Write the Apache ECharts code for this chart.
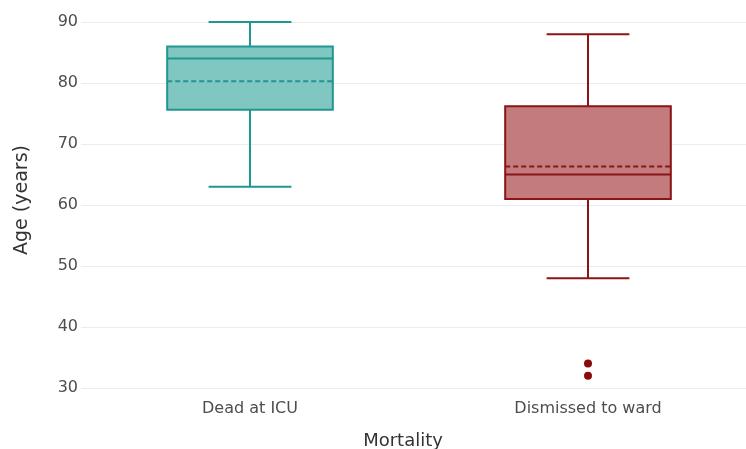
<!DOCTYPE html>
<html>
<head>
<meta charset="utf-8">
<script src="https://cdn.jsdelivr.net/npm/echarts@6/dist/echarts.min.js"></script>
<style>html,body{margin:0;padding:0;background:#fff;}#c{width:746px;height:449px;}</style>
</head>
<body>
<div id="c"></div>
<script>
const categories = ['Dead at ICU', 'Dismissed to ward'];
const whiskerLow = [63, 48];
const q1 = [75.6, 61];
const median = [84, 65];
const q3 = [86, 76.2];
const whiskerHigh = [90, 88];
const means = [80.3, 66.3];
const outlierCat = [1, 1];
const outlierVal = [34, 32];
const yTicks = [30, 40, 50, 60, 70, 80, 90];

const strokeColors = ['#1f9690', '#8b1414'];
const fillColors = ['#80c6c1', '#c47b7e'];
const FONT = 'DejaVu Sans';

const boxData = categories.map((c, i) => [i, whiskerLow[i], q1[i], median[i], q3[i], whiskerHigh[i], means[i]]);
const outData = outlierCat.map((c, i) => [c, outlierVal[i]]);

function renderBox(params, api) {
  const idx = api.value(0);
  const band = api.size([1, 0])[0];
  const bw = band * 0.49, cw = band * 0.245;
  const x = api.coord([idx, 0])[0];
  const y = v => api.coord([idx, v])[1];
  const stroke = strokeColors[idx], fill = fillColors[idx];
  const ls = { stroke: stroke, lineWidth: 2, fill: null };
  const yLo = y(api.value(1)), yQ1 = y(api.value(2)), yMed = y(api.value(3)),
        yQ3 = y(api.value(4)), yHi = y(api.value(5)), yMean = y(api.value(6));
  return {
    type: 'group',
    children: [
      { type: 'line', shape: { x1: x, y1: yHi, x2: x, y2: yQ3 }, style: ls },
      { type: 'line', shape: { x1: x, y1: yQ1, x2: x, y2: yLo }, style: ls },
      { type: 'line', shape: { x1: x - cw / 2, y1: yHi, x2: x + cw / 2, y2: yHi }, style: ls },
      { type: 'line', shape: { x1: x - cw / 2, y1: yLo, x2: x + cw / 2, y2: yLo }, style: ls },
      { type: 'rect', shape: { x: x - bw / 2, y: yQ3, width: bw, height: yQ1 - yQ3 }, style: { fill: fill, stroke: stroke, lineWidth: 2 } },
      { type: 'line', shape: { x1: x - bw / 2, y1: yMed, x2: x + bw / 2, y2: yMed }, style: ls },
      { type: 'line', shape: { x1: x - bw / 2, y1: yMean, x2: x + bw / 2, y2: yMean }, style: { stroke: stroke, lineWidth: 2, lineDash: [5, 3], fill: null } }
    ]
  };
}

const chart = echarts.init(document.getElementById('c'));
chart.setOption({
  animation: false,
  backgroundColor: '#fff',
  grid: { left: 81, width: 676, top: 22, height: 366, containLabel: false, outerBoundsMode: 'none' },
  xAxis: {
    type: 'category',
    data: categories,
    axisLine: { show: false },
    axisTick: { show: false },
    splitLine: { show: false },
    axisLabel: { color: '#4d4d4d', fontSize: 16, fontFamily: FONT, margin: 13 }
  },
  yAxis: {
    type: 'value',
    min: 30, max: 90, interval: 10,
    axisLine: { show: false },
    axisTick: { show: false },
    splitLine: { show: true, lineStyle: { color: '#ececec', width: 1 } },
    axisLabel: { color: '#4d4d4d', fontSize: 16, fontFamily: FONT, margin: 3,
      formatter: v => yTicks.includes(v) ? String(v) : '' }
  },
  graphic: [
    { type: 'text', x: 22, y: 200, rotation: Math.PI / 2,
      style: { text: 'Age (years)', fill: '#333', fontSize: 19, fontFamily: FONT, align: 'center', verticalAlign: 'middle' } },
    { type: 'text', x: 403, y: 441,
      style: { text: 'Mortality', fill: '#333', fontSize: 18, fontFamily: FONT, align: 'center', verticalAlign: 'middle' } }
  ],
  series: [
    { type: 'custom', renderItem: renderBox, data: boxData, encode: { x: 0, y: [1, 2, 3, 4, 5, 6] }, z: 2 },
    { type: 'scatter', data: outData, symbolSize: 8, itemStyle: { color: '#8b0a0a', opacity: 1 }, z: 3 }
  ]
});
</script>
</body>
</html>
